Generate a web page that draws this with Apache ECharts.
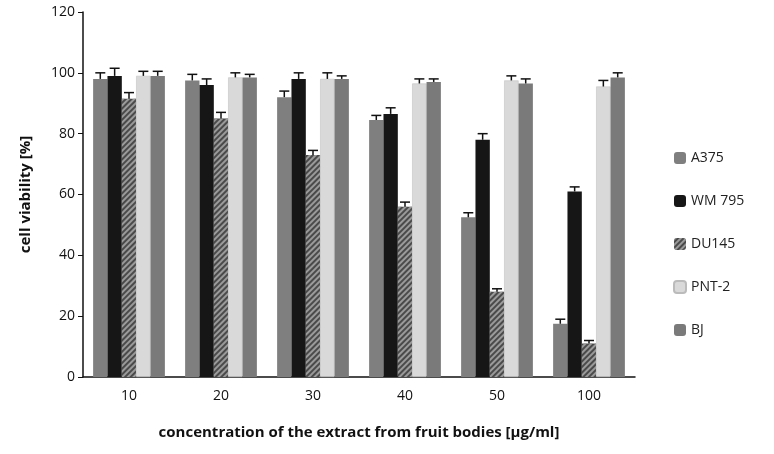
<!DOCTYPE html><html><head><meta charset="utf-8"><script src="https://cdn.jsdelivr.net/npm/echarts@6/dist/echarts.min.js"></script></head><body style="margin:0"><div id="c" style="width:774px;height:454px"></div><script>
const categories=['10','20','30','40','50','100'];
const seriesNames=['A375','WM 795','DU145','PNT-2','BJ'];
const A375=[98,97.5,92,84.5,52.5,17.5];
const WM795=[99,96,98,86.5,78,61];
const DU145=[91.5,85,73,56,28,11];
const PNT2=[99,98.5,98,96.5,97.5,95.5];
const BJ=[99,98.5,98,97,96.5,98.5];
const errA375=[2,2,2,1.5,1.5,1.5];
const errWM795=[2.5,2,2,2,2,1.5];
const errDU145=[2,2,1.5,1.5,1,1];
const errPNT2=[1.5,1.5,2,1.5,1.5,2];
const errBJ=[1.5,1,1,1,1.5,1.5];
const vals=[A375,WM795,DU145,PNT2,BJ];
const errs=[errA375,errWM795,errDU145,errPNT2,errBJ];
const colors=['#7f7f7f','#161616','#4a4a4a','#d9d9d9','#7a7a7a'];
const gapPct=0.22;
const series=[];
vals.forEach((v,i)=>{
  const s={name:seriesNames[i],type:'bar',data:v,barGap:'0%',barCategoryGap:'22%',
    itemStyle:{color:colors[i],borderColor:i==3?'#bbb':'transparent',borderWidth:i==3?0.5:0}};
  if(i==2) s.itemStyle.decal={symbol:'rect',dashArrayX:[1,0],dashArrayY:[2,2],rotation:-Math.PI/4,color:'#9a9a9a',symbolSize:1};
  series.push(s);
});
vals.forEach((v,i)=>{
  series.push({type:'custom',silent:true,z:5,data:v.map((y,k)=>[k,y,errs[i][k]]),
    renderItem:(p,api)=>{
      const band=api.size([1,0])[0];const bw=band*(1-gapPct)/5;
      const base=api.coord([api.value(0),api.value(1)]);
      const top=api.coord([api.value(0),api.value(1)+api.value(2)]);
      const x=base[0]+(i-2)*bw;const st={stroke:'#111',lineWidth:1.5};
      return {type:'group',children:[
        {type:'line',shape:{x1:x,y1:base[1],x2:x,y2:top[1]},style:st},
        {type:'line',shape:{x1:x-5,y1:top[1],x2:x+5,y2:top[1]},style:st}]};
    }});
});
const ch=echarts.init(document.getElementById('c'));
ch.setOption({animation:false,textStyle:{fontFamily:'Open Sans'},
 grid:{left:83,right:139,top:12,bottom:77},
 legend:{orient:'vertical',left:668,top:146,itemGap:29,itemWidth:12,itemHeight:12,
   data:seriesNames,textStyle:{fontSize:14,color:'#222'}},
 xAxis:{type:'category',data:categories,name:'concentration of the extract from fruit bodies [µg/ml]',nameLocation:'middle',nameGap:48,
   nameTextStyle:{fontWeight:'bold',fontSize:15,color:'#111'},
   axisLine:{lineStyle:{color:'#111',width:1.5}},axisTick:{length:5,lineStyle:{color:'#111'}},
   axisLabel:{fontSize:14,color:'#111',margin:12}},
 yAxis:{type:'value',min:0,max:120,interval:20,name:'cell viability [%]',nameLocation:'middle',nameGap:50,
   nameTextStyle:{fontWeight:'bold',fontSize:15,color:'#111'},
   axisLine:{show:true,lineStyle:{color:'#111',width:1.5}},axisTick:{show:true,length:5,lineStyle:{color:'#111'}},
   splitLine:{show:false},axisLabel:{fontSize:14,color:'#111'}},
 series});
</script></body></html>
